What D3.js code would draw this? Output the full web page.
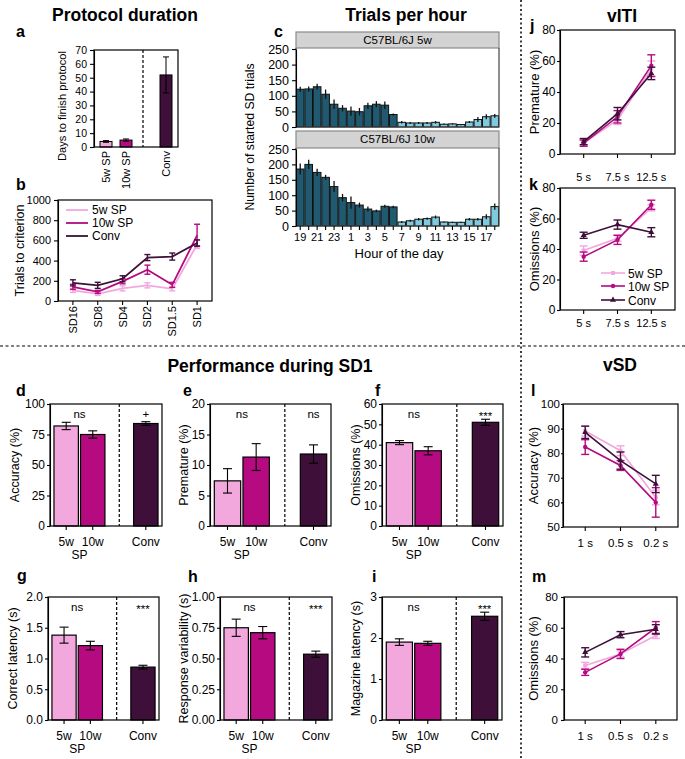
<!DOCTYPE html>
<html><head><meta charset="utf-8">
<script src="https://cdn.jsdelivr.net/npm/d3@7"></script>
<style>body{margin:0;background:#fff}</style>
</head><body><script>
// ---------------- DATA ----------------
const groups = ["5w SP", "10w SP", "Conv"];
const barKeys = ["5w", "10w", "Conv"];
const groupColors = ["#f2a7dd", "#b50a80", "#3d0f39"];
const markerShapes = ["square", "circle", "triangle"];

// a: protocol duration
const protocolDays = [4, 5, 52];
const protocolErr = [0.6, 0.8, 13];

// b: trials to criterion
const stages = ["SD16", "SD8", "SD4", "SD2", "SD1.5", "SD1"];
const trials5w = [105, 70, 125, 155, 120, 560];
const trials5wErr = [20, 15, 25, 25, 20, 40];
const trials10w = [140, 90, 195, 310, 160, 650];
const trials10wErr = [25, 15, 25, 45, 25, 110];
const trialsConv = [180, 155, 220, 430, 440, 575];
const trialsConvErr = [30, 30, 30, 30, 35, 30];

// c: trials per hour
const hours = [19,20,21,22,23,0,1,2,3,4,5,6,7,8,9,10,11,12,13,14,15,16,17,18];
const hourLabels = ["19","21","23","1","3","5","7","9","11","13","15","17"];
const trialsHour5w = [121,122,129,105,73,60,51,49,68,73,70,40,15,13,13,13,15,9,10,8,16,24,33,36];
const trialsHour5wErr = [8,8,10,15,15,10,15,12,10,10,12,3,4,3,3,3,4,2,2,2,3,8,8,6];
const trialsHour10w = [185,200,174,158,128,92,76,68,55,49,64,62,13,17,22,24,29,13,12,12,22,22,30,63];
const trialsHour10wErr = [18,15,12,8,18,12,20,8,8,4,5,4,3,3,4,4,5,2,2,2,4,4,8,10];
const darkHours = [19,20,21,22,23,0,1,2,3,4,5,6];

// d-i: performance during SD1
const accuracy = [82, 75, 84], accuracyErr = [3, 3, 1.5];
const premature = [7.4, 11.3, 11.8], prematureErr = [2, 2.2, 1.5];
const omissions = [41, 37, 51], omissionsErr = [1, 2, 1.5];
const correctLatency = [1.38, 1.21, 0.86], correctLatencyErr = [0.13, 0.07, 0.03];
const responseVar = [0.75, 0.71, 0.535], responseVarErr = [0.07, 0.05, 0.025];
const magazineLatency = [1.9, 1.87, 2.53], magazineLatencyErr = [0.08, 0.05, 0.1];

// j,k: vITI
const itiLabels = ["5 s", "7.5 s", "12.5 s"];
const itiPrem5w = [7, 22, 55], itiPrem5wErr = [2, 3, 5];
const itiPrem10w = [7, 24, 57], itiPrem10wErr = [2, 4, 7];
const itiPremConv = [8, 26, 52], itiPremConvErr = [2, 4, 4];
const itiOm5w = [39, 47, 67], itiOm5wErr = [3, 2, 2];
const itiOm10w = [35, 46, 69], itiOm10wErr = [3, 3, 3];
const itiOmConv = [49, 56, 51], itiOmConvErr = [2, 3, 3];

// l,m: vSD
const sdLabels = ["1 s", "0.5 s", "0.2 s"];
const sdAcc5w = [89, 81, 62], sdAcc5wErr = [2, 2, 3];
const sdAcc10w = [82.5, 75, 60], sdAcc10wErr = [3, 2, 6];
const sdAccConv = [88.5, 77, 67.5], sdAccConvErr = [2.5, 3.5, 3.5];
const sdOm5w = [35.5, 43, 55], sdOm5wErr = [2, 2, 2];
const sdOm10w = [31, 43, 60], sdOm10wErr = [2, 3, 4];
const sdOmConv = [44, 55.5, 59], sdOmConvErr = [3, 2, 3];

// ---------------- DRAWING ----------------
const FONT = "'Liberation Sans', Arial, Helvetica, sans-serif";
const svg = d3.select("body").append("svg").attr("width", 685).attr("height", 759)
  .style("font-family", FONT);

function txt(x, y, s, o = {}) {
  const t = svg.append("text").attr("x", x).attr("y", y).text(s)
    .attr("font-size", o.size || 12).attr("text-anchor", o.anchor || "start")
    .attr("font-weight", o.bold ? "bold" : "normal").attr("fill", o.fill || "#000")
    .style("font-family", FONT);
  if (o.rotate) t.attr("transform", `rotate(-90,${x},${y})`);
  return t;
}
function frame(x0, y0, x1, y1) {
  svg.append("rect").attr("x", x0).attr("y", y0).attr("width", x1 - x0).attr("height", y1 - y0)
    .attr("fill", "none").attr("stroke", "#000").attr("stroke-width", 1.2);
}
function yAxis(scale, x, ticks, fmt, size, tsize, tpad) {
  const g = svg.append("g").attr("transform", `translate(${x},0)`)
    .call(d3.axisLeft(scale).tickValues(ticks).tickFormat(fmt)
      .tickSize(tsize == null ? 4 : tsize).tickSizeOuter(0).tickPadding(tpad == null ? 3 : tpad));
  g.attr("font-family", FONT);
  g.selectAll("text").attr("font-size", size).attr("fill", "#000");
  g.selectAll("line,path").attr("stroke", "#000").attr("stroke-width", 1.1);
  return g;
}
function errBar(g, x, yLo, yHi, cap, color, sw) {
  g.append("line").attr("x1", x).attr("x2", x).attr("y1", yLo).attr("y2", yHi).attr("stroke", color).attr("stroke-width", sw || 1.2);
  if (cap > 0) {
    [yLo, yHi].forEach(yy => g.append("line").attr("x1", x - cap / 2).attr("x2", x + cap / 2)
      .attr("y1", yy).attr("y2", yy).attr("stroke", color).attr("stroke-width", sw || 1.2));
  }
}
function marker(g, shape, x, y, color) {
  if (shape === "square") g.append("rect").attr("x", x - 2).attr("y", y - 2).attr("width", 4).attr("height", 4).attr("fill", color);
  else if (shape === "circle") g.append("circle").attr("cx", x).attr("cy", y).attr("r", 2.2).attr("fill", color);
  else g.append("path").attr("d", d3.symbol(d3.symbolTriangle, 16)()).attr("transform", `translate(${x},${y})`).attr("fill", color);
}

// separators
svg.append("line").attr("x1", 0).attr("x2", 685).attr("y1", 346).attr("y2", 346)
  .attr("stroke", "#000").attr("stroke-width", 1.2).attr("stroke-dasharray", "3,2.5");
svg.append("line").attr("x1", 521).attr("x2", 521).attr("y1", 0).attr("y2", 759)
  .attr("stroke", "#000").attr("stroke-width", 1.5).attr("stroke-dasharray", "2,2.5");

// titles
txt(125, 21, "Protocol duration", { size: 17.5, bold: true, anchor: "middle" });
txt(406, 21, "Trials per hour", { size: 17.5, bold: true, anchor: "middle" });
txt(622, 22, "vITI", { size: 17.5, bold: true, anchor: "middle" });
txt(270, 372, "Performance during SD1", { size: 17.5, bold: true, anchor: "middle" });
txt(620, 371, "vSD", { size: 17.5, bold: true, anchor: "middle" });

// ---------- panel a ----------
(function () {
  const x0 = 94, x1 = 178, y0 = 50, y1 = 147;
  const x = d3.scaleBand().domain(["5w", "10w", "gap", "Conv"]).range([x0, x1]).paddingInner(0.4).paddingOuter(0.3);
  const y = d3.scaleLinear().domain([0, 70]).range([y1, y0]);
  const g = svg.append("g");
  barKeys.forEach((k, i) => {
    g.append("rect").attr("x", x(k)).attr("width", x.bandwidth()).attr("y", y(protocolDays[i]))
      .attr("height", y(0) - y(protocolDays[i])).attr("fill", groupColors[i]).attr("stroke", "#000").attr("stroke-width", 1);
    errBar(g, x(k) + x.bandwidth() / 2, y(protocolDays[i] - protocolErr[i]), y(protocolDays[i] + protocolErr[i]), 6, "#000", 1);
  });
  const dx = x("gap") + x.bandwidth() / 2 - 3;
  svg.append("line").attr("x1", dx).attr("x2", dx).attr("y1", y0).attr("y2", y1).attr("stroke", "#000").attr("stroke-dasharray", "3,2").attr("stroke-width", 1.2);
  frame(x0, y0, x1, y1);
  yAxis(y, x0, d3.range(0, 71, 10), d3.format("d"), 10.5);
  barKeys.forEach((k, i) => txt(x(k) + x.bandwidth() / 2 + 4, y1 + 4, groups[i], { size: 11, anchor: "end", rotate: true }));
  txt(66, 106, "Days to finish protocol", { size: 11.2, anchor: "middle", rotate: true });
  txt(16, 37, "a", { size: 16, bold: true });
})();

// ---------- line panel helper ----------
function linePanel(p) {
  const x = d3.scalePoint().domain(p.cats).range([p.x0, p.x1]).padding(p.pad);
  const y = d3.scaleLinear().domain(p.ydom).range([p.y1, p.y0]);
  const g = svg.append("g");
  p.series.forEach((s, si) => {
    const line = d3.line().x((d, i) => x(p.cats[i])).y(d => y(d));
    g.append("path").datum(s.vals).attr("d", line).attr("fill", "none").attr("stroke", groupColors[si]).attr("stroke-width", p.lw || 1.6);
    s.vals.forEach((v, i) => {
      errBar(g, x(p.cats[i]), y(v - s.errs[i]), y(v + s.errs[i]), p.cap, groupColors[si], 1.4);
      if (p.markers) marker(g, markerShapes[si], x(p.cats[i]), y(v), groupColors[si]);
    });
  });
  frame(p.x0, p.y0, p.x1, p.y1);
  yAxis(y, p.x0, p.yticks, p.yfmt || d3.format("d"), p.ytickSize, p.tsize, p.tpad);
  if (p.rotateX) {
    p.cats.forEach(c => txt(x(c) + 4, p.y1 + 5, c, { size: p.xtickSize, anchor: "end", rotate: true }));
  } else {
    p.cats.forEach(c => txt(x(c), p.xlabY, c, { size: p.xtickSize, anchor: "middle" }));
  }
  p.cats.forEach(c => svg.append("line").attr("x1", x(c)).attr("x2", x(c)).attr("y1", p.y1).attr("y2", p.y1 + 4).attr("stroke", "#000").attr("stroke-width", 1.1));
  txt(p.ylabX, (p.y0 + p.y1) / 2, p.ylabel, { size: p.ylabSize, anchor: "middle", rotate: true });
  txt(p.letterX, p.letterY, p.letter, { size: 16, bold: true });
  return { x, y };
}

// ---------- panel b ----------
linePanel({
  x0: 58, x1: 212, y0: 200, y1: 301, pad: 0.6, cats: stages, ydom: [0, 1000],
  yticks: d3.range(0, 1001, 200), ytickSize: 11, xtickSize: 11, rotateX: true, cap: 6,
  series: [{ vals: trials5w, errs: trials5wErr }, { vals: trials10w, errs: trials10wErr }, { vals: trialsConv, errs: trialsConvErr }],
  ylabel: "Trials to criterion", ylabX: 24, ylabSize: 12.5, letter: "b", letterX: 16, letterY: 190, lw: 1.8
});
[210, 223, 236].forEach((yy, i) => {
  svg.append("line").attr("x1", 66).attr("x2", 88).attr("y1", yy).attr("y2", yy).attr("stroke", groupColors[i]).attr("stroke-width", 1.8);
  txt(92, yy + 4, groups[i], { size: 12 });
});

// ---------- panel c ----------
(function () {
  const x0 = 296, x1 = 499;
  const panels = [
    { vals: trialsHour5w, errs: trialsHour5wErr, label: "C57BL/6J 5w", sy0: 32, y0: 48, y1: 127 },
    { vals: trialsHour10w, errs: trialsHour10wErr, label: "C57BL/6J 10w", sy0: 131, y0: 148, y1: 226 }
  ];
  const x = d3.scaleBand().domain(hours.map(String)).range([x0, x1]).paddingInner(0.1).paddingOuter(0.05);
  panels.forEach((P, pi) => {
    const y = d3.scaleLinear().domain([0, 250]).range([P.y1, P.y0 + 1]);
    svg.append("rect").attr("x", x0).attr("y", P.sy0).attr("width", x1 - x0).attr("height", P.y0 - P.sy0)
      .attr("fill", "#d3d3d3").attr("stroke", "#8a8a8a").attr("stroke-width", 1.2);
    txt((x0 + x1) / 2, P.sy0 + 12, P.label, { size: 11.5, anchor: "middle" });
    const g = svg.append("g");
    hours.forEach((h, i) => {
      g.append("rect").attr("x", x(String(h))).attr("width", x.bandwidth()).attr("y", y(P.vals[i]))
        .attr("height", y(0) - y(P.vals[i])).attr("fill", darkHours.includes(h) ? "#1f5a71" : "#80cae0")
        .attr("stroke", "#111").attr("stroke-width", 1);
      errBar(g, x(String(h)) + x.bandwidth() / 2, y(P.vals[i] - P.errs[i]), y(P.vals[i] + P.errs[i]), 0, "#111", 1.3);
    });
    svg.append("path").attr("d", `M${x0},${P.y0}V${P.y1}H${x1}V${P.y0}`).attr("fill", "none").attr("stroke", "#444").attr("stroke-width", 1.2);
    yAxis(y, x0, d3.range(0, 251, 50), d3.format("d"), 12.5);
    if (pi === 1) {
      hours.forEach(h => svg.append("line").attr("x1", x(String(h)) + x.bandwidth() / 2).attr("x2", x(String(h)) + x.bandwidth() / 2)
        .attr("y1", P.y1).attr("y2", P.y1 + 4).attr("stroke", "#000").attr("stroke-width", 1.1));
      hourLabels.forEach(l => txt(x(l) + x.bandwidth() / 2, P.y1 + 15, l, { size: 11, anchor: "middle" }));
    }
  });
  txt(399, 258, "Hour of the day", { size: 13, anchor: "middle" });
  txt(254, 137, "Number of started SD trials", { size: 12.2, anchor: "middle", rotate: true });
  txt(274, 37, "c", { size: 16, bold: true });
})();

// ---------- panels j, k ----------
linePanel({
  x0: 560, x1: 675, y0: 30, y1: 154, pad: 0.7, cats: itiLabels, ydom: [0, 80],
  yticks: [0, 20, 40, 60, 80], ytickSize: 12, xtickSize: 11, xlabY: 181, cap: 8, markers: true, tsize: 3, tpad: 1.5,
  series: [{ vals: itiPrem5w, errs: itiPrem5wErr }, { vals: itiPrem10w, errs: itiPrem10wErr }, { vals: itiPremConv, errs: itiPremConvErr }],
  ylabel: "Premature (%)", ylabX: 539, ylabSize: 13, letter: "j", letterX: 530, letterY: 31
});
linePanel({
  x0: 560, x1: 675, y0: 188, y1: 310, pad: 0.7, cats: itiLabels, ydom: [0, 80],
  yticks: [0, 20, 40, 60, 80], ytickSize: 12, xtickSize: 11, xlabY: 327, cap: 8, markers: true, tsize: 3, tpad: 1.5,
  series: [{ vals: itiOm5w, errs: itiOm5wErr }, { vals: itiOm10w, errs: itiOm10wErr }, { vals: itiOmConv, errs: itiOmConvErr }],
  ylabel: "Omissions (%)", ylabX: 539, ylabSize: 13, letter: "k", letterX: 529, letterY: 190
});
[273, 286, 300].forEach((yy, i) => {
  svg.append("line").attr("x1", 601).attr("x2", 625).attr("y1", yy).attr("y2", yy).attr("stroke", groupColors[i]).attr("stroke-width", 1.6);
  marker(svg, markerShapes[i], 613, yy, groupColors[i]);
  txt(628, yy + 4.5, groups[i], { size: 12 });
});

// ---------- panels l, m ----------
linePanel({
  x0: 563, x1: 678, y0: 404, y1: 527, pad: 0.63, cats: sdLabels, ydom: [50, 100],
  yticks: [50, 60, 70, 80, 90, 100], ytickSize: 11.5, xtickSize: 11.5, xlabY: 547, cap: 8, markers: true, tsize: 2, tpad: 1,
  series: [{ vals: sdAcc5w, errs: sdAcc5wErr }, { vals: sdAcc10w, errs: sdAcc10wErr }, { vals: sdAccConv, errs: sdAccConvErr }],
  ylabel: "Accuracy (%)", ylabX: 538, ylabSize: 13, letter: "l", letterX: 531, letterY: 396
});
linePanel({
  x0: 564, x1: 677, y0: 597, y1: 720, pad: 0.6, cats: sdLabels, ydom: [0, 80],
  yticks: [0, 20, 40, 60, 80], ytickSize: 11.5, xtickSize: 11.5, xlabY: 740, cap: 8, markers: true, tsize: 3, tpad: 3,
  series: [{ vals: sdOm5w, errs: sdOm5wErr }, { vals: sdOm10w, errs: sdOm10wErr }, { vals: sdOmConv, errs: sdOmConvErr }],
  ylabel: "Omissions (%)", ylabX: 538, ylabSize: 13, letter: "m", letterX: 532, letterY: 582
});

// ---------- bar panels d-i ----------
function barPanel(p) {
  const x = d3.scaleBand().domain(["5w", "10w", "gap", "Conv"]).range([p.x0, p.x1]).paddingInner(0.08).paddingOuter(0.15);
  const y = d3.scaleLinear().domain([0, p.max]).range([p.y1, p.y0]);
  const g = svg.append("g");
  barKeys.forEach((k, i) => {
    g.append("rect").attr("x", x(k)).attr("width", x.bandwidth()).attr("y", y(p.vals[i]))
      .attr("height", y(0) - y(p.vals[i])).attr("fill", groupColors[i]).attr("stroke", "#000").attr("stroke-width", 1.2);
    errBar(g, x(k) + x.bandwidth() / 2, y(p.vals[i] - p.errs[i]), y(p.vals[i] + p.errs[i]), 9, "#000", 1.1);
  });
  const dx = x("gap") + x.bandwidth() / 2;
  svg.append("line").attr("x1", dx).attr("x2", dx).attr("y1", p.y0).attr("y2", p.y1).attr("stroke", "#000").attr("stroke-dasharray", "3,2").attr("stroke-width", 1.2);
  frame(p.x0, p.y0, p.x1, p.y1);
  yAxis(y, p.x0, p.ticks, p.fmt, 12, 3, 2);
  const c5 = x("5w") + x.bandwidth() / 2, c10 = x("10w") + x.bandwidth() / 2, cc = x("Conv") + x.bandwidth() / 2;
  [c5, c10, cc].forEach(cx => svg.append("line").attr("x1", cx).attr("x2", cx).attr("y1", p.y1).attr("y2", p.y1 + 4).attr("stroke", "#000").attr("stroke-width", 1.1));
  txt(c5, p.y1 + 20, "5w", { size: 12, anchor: "middle" });
  txt(c10, p.y1 + 20, "10w", { size: 12, anchor: "middle" });
  txt(cc, p.y1 + 20, "Conv", { size: 12, anchor: "middle" });
  txt((c5 + c10) / 2, p.y1 + 33, "SP", { size: 12, anchor: "middle" });
  txt((c5 + c10) / 2, p.y0 + 14, p.sig[0], { size: 11.5, anchor: "middle" });
  txt(cc, p.y0 + (p.sig[1] === "***" ? 16 : 14), p.sig[1], { size: 11.5, anchor: "middle" });
  txt(p.ylabX, (p.y0 + p.y1) / 2, p.ylabel, { size: p.ylabSize || 12.5, anchor: "middle", rotate: true });
  txt(p.letterX, p.letterY, p.letter, { size: 16, bold: true });
}
barPanel({ x0: 50, x1: 162, y0: 404, y1: 526, max: 100, ticks: [0, 25, 50, 75, 100], fmt: d3.format("d"),
  vals: accuracy, errs: accuracyErr, sig: ["ns", "+"], ylabel: "Accuracy (%)", ylabX: 19, letter: "d", letterX: 16, letterY: 396 });
barPanel({ x0: 210, x1: 331, y0: 404, y1: 526, max: 20, ticks: [0, 5, 10, 15, 20], fmt: d3.format("d"),
  vals: premature, errs: prematureErr, sig: ["ns", "ns"], ylabel: "Premature (%)", ylabX: 188, letter: "e", letterX: 183, letterY: 396 });
barPanel({ x0: 382, x1: 503, y0: 404, y1: 526, max: 60, ticks: [0, 10, 20, 30, 40, 50, 60], fmt: d3.format("d"),
  vals: omissions, errs: omissionsErr, sig: ["ns", "***"], ylabel: "Omissions (%)", ylabX: 360, letter: "f", letterX: 375, letterY: 396 });
barPanel({ x0: 48, x1: 159, y0: 597, y1: 720, max: 2, ticks: [0, 0.5, 1, 1.5, 2], fmt: d3.format(".1f"),
  vals: correctLatency, errs: correctLatencyErr, sig: ["ns", "***"], ylabel: "Correct latency (s)", ylabX: 17, letter: "g", letterX: 17, letterY: 581 });
barPanel({ x0: 220, x1: 332, y0: 597, y1: 720, max: 1, ticks: [0, 0.25, 0.5, 0.75, 1], fmt: d3.format(".2f"),
  vals: responseVar, errs: responseVarErr, sig: ["ns", "***"], ylabel: "Response variability (s)", ylabX: 188, letter: "h", letterX: 188, letterY: 582 });
barPanel({ x0: 382, x1: 502, y0: 597, y1: 720, max: 3, ticks: [0, 1, 2, 3], fmt: d3.format("d"),
  vals: magazineLatency, errs: magazineLatencyErr, sig: ["ns", "***"], ylabel: "Magazine latency (s)", ylabX: 360, letter: "i", letterX: 372, letterY: 582 });
</script></body></html>
